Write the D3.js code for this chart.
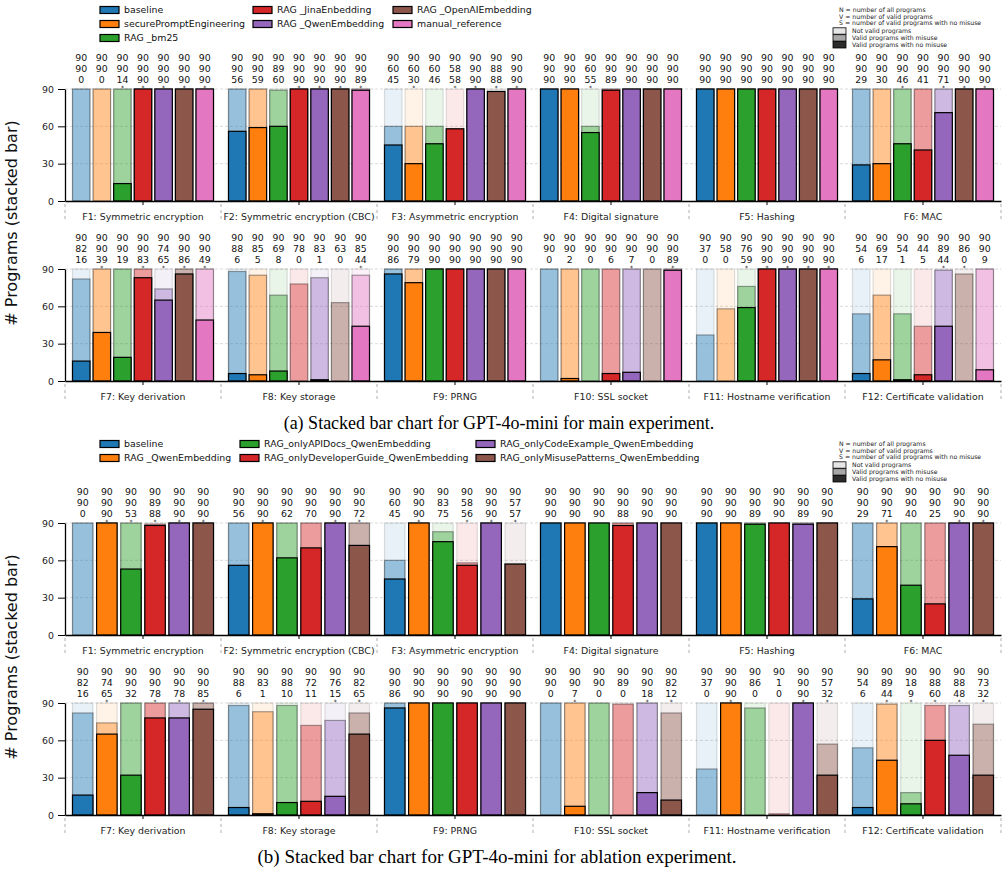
<!DOCTYPE html>
<html>
<head>
<meta charset="utf-8">
<script src="https://cdn.jsdelivr.net/npm/d3@7"></script>
<style>
  body { margin: 0; background: #fff; }
  svg text { font-family: "DejaVu Sans", sans-serif; }
</style>
</head>
<body>
<div id="chart"></div>
<script>
// categories
var features = ["F1: Symmetric encryption", "F2: Symmetric encryption (CBC)", "F3: Asymmetric encryption",
  "F4: Digital signature", "F5: Hashing", "F6: MAC", "F7: Key derivation", "F8: Key storage",
  "F9: PRNG", "F10: SSL socket", "F11: Hostname verification", "F12: Certificate validation"];

var mainSeries = ["baseline", "securePromptEngineering", "RAG _bm25", "RAG _JinaEnbedding",
  "RAG _QwenEmbedding", "RAG _OpenAIEmbedding", "manual_reference"];
var ablSeries = ["baseline", "RAG _QwenEmbedding", "RAG_onlyAPIDocs_QwenEmbedding",
  "RAG_onlyDeveloperGuide_QwenEmbedding", "RAG_onlyCodeExample_QwenEmbedding",
  "RAG_onlyMisusePatterns_QwenEmbedding"];
var tab10 = ["#1f77b4", "#ff7f0e", "#2ca02c", "#d62728", "#9467bd", "#8c564b", "#e377c2"];

// main experiment: N, V, S per feature
var mainTotal = [
  [90,90,90,90,90,90,90], [90,90,90,90,90,90,90], [90,90,90,90,90,90,90],
  [90,90,90,90,90,90,90], [90,90,90,90,90,90,90], [90,90,90,90,90,90,90],
  [90,90,90,90,90,90,90], [90,90,90,90,90,90,90], [90,90,90,90,90,90,90],
  [90,90,90,90,90,90,90], [90,90,90,90,90,90,90], [90,90,90,90,90,90,90]];
var mainValid = [
  [90,90,90,90,90,90,90], [90,90,89,90,90,90,90], [60,60,60,58,90,88,90],
  [90,90,60,90,90,90,90], [90,90,90,90,90,90,90], [90,90,90,90,90,90,90],
  [82,90,90,90,74,90,90], [88,85,69,78,83,63,85], [90,90,90,90,90,90,90],
  [90,90,90,90,90,90,90], [37,58,76,90,90,90,90], [54,69,54,44,89,86,90]];
var mainSecure = [
  [0,0,14,90,90,90,90], [56,59,60,90,90,90,89], [45,30,46,58,90,88,90],
  [90,90,55,89,90,90,90], [90,90,90,90,90,90,90], [29,30,46,41,71,90,90],
  [16,39,19,83,65,86,49], [6,5,8,0,1,0,44], [86,79,90,90,90,90,90],
  [0,2,0,6,7,0,89], [0,0,59,90,90,90,90], [6,17,1,5,44,0,9]];
var mainStars = [
  [0,0,1,1,1,1,1], [0,0,0,1,1,1,1], [0,1,0,1,1,1,1],
  [0,0,1,0,0,0,0], [0,0,0,0,0,0,0], [0,0,1,0,1,1,1],
  [0,1,0,1,1,1,1], [0,0,0,0,0,0,1], [0,0,0,0,0,0,0],
  [0,0,0,0,1,0,1], [0,0,1,1,1,1,1], [0,0,0,0,1,1,0]];

// ablation experiment
var ablTotal = [
  [90,90,90,90,90,90], [90,90,90,90,90,90], [90,90,90,90,90,90],
  [90,90,90,90,90,90], [90,90,90,90,90,90], [90,90,90,90,90,90],
  [90,90,90,90,90,90], [90,90,90,90,90,90], [90,90,90,90,90,90],
  [90,90,90,90,90,90], [90,90,90,90,90,90], [90,90,90,90,90,90]];
var ablValid = [
  [90,90,90,89,90,90], [90,90,90,90,90,90], [60,90,83,58,90,57],
  [90,90,90,90,90,90], [90,90,90,90,90,90], [90,90,90,90,90,90],
  [82,74,90,90,90,90], [88,83,88,72,76,82], [90,90,90,90,90,90],
  [90,90,90,89,90,82], [37,90,86,1,90,57], [54,89,18,88,88,73]];
var ablSecure = [
  [0,90,53,88,90,90], [56,90,62,70,90,72], [45,90,75,56,90,57],
  [90,90,90,88,90,90], [90,90,89,90,89,90], [29,71,40,25,90,90],
  [16,65,32,78,78,85], [6,1,10,11,15,65], [86,90,90,90,90,90],
  [0,7,0,0,18,12], [0,90,0,0,90,32], [6,44,9,60,48,32]];
var ablStars = [
  [0,1,1,1,1,1], [0,1,0,0,1,1], [0,1,0,1,1,1],
  [0,0,0,0,0,0], [0,0,0,0,0,0], [0,1,0,0,1,1],
  [0,1,0,1,1,1], [0,0,0,0,1,1], [0,0,0,0,0,0],
  [0,1,0,0,1,1], [0,1,0,0,1,1], [0,1,1,1,1,1]];

var yTicks = [0, 30, 60, 90];

var svgWidth = 1008, svgHeight = 872;
var plotLeft = 65, plotRight = 1001, rowHeight = 112;
var fs = "9.4px";

var svg = d3.select("#chart").append("svg")
  .attr("width", svgWidth)
  .attr("height", svgHeight);

function drawRow(rowFeatures, fIdx0, cfg, y0) {
  var g = svg.append("g");
  var xGroup = d3.scaleBand().domain(rowFeatures).range([plotLeft, plotRight]).padding(0);
  var yScale = d3.scaleLinear().domain([0, 90]).range([y0, y0 - rowHeight]);
  var top = yScale(90);

  // grid
  g.selectAll(".grid").data([30, 60, 90]).enter().append("line")
    .attr("x1", plotLeft).attr("x2", plotRight)
    .attr("y1", d => yScale(d)).attr("y2", d => yScale(d))
    .attr("stroke", "#d0d0d0").attr("stroke-dasharray", "3,2").attr("stroke-width", 0.8);

  rowFeatures.forEach(function(f, k) {
    var fi = fIdx0 + k;
    var c = xGroup(f) + xGroup.bandwidth() / 2;
    var xBar = d3.scaleBand().domain(d3.range(cfg.series.length))
      .range([c - 70.5, c + 70.5]).paddingInner(0.15).paddingOuter(0);
    var bars = cfg.series.map(function(s, i) {
      return { i: i, n: cfg.total[fi][i], v: cfg.valid[fi][i], s: cfg.secure[fi][i], star: cfg.stars[fi][i] };
    });
    var bar = g.append("g").selectAll("g").data(bars).enter().append("g");
    bar.append("rect")
      .attr("x", d => xBar(d.i)).attr("width", xBar.bandwidth())
      .attr("y", d => yScale(d.n)).attr("height", d => y0 - yScale(d.n))
      .attr("fill", d => cfg.colors[d.i]).attr("fill-opacity", 0.1)
      .attr("stroke", "#000").attr("stroke-opacity", 0.12).attr("stroke-width", 1.2);
    bar.append("rect")
      .attr("x", d => xBar(d.i)).attr("width", xBar.bandwidth())
      .attr("y", d => yScale(d.v)).attr("height", d => y0 - yScale(d.v))
      .attr("fill", d => cfg.colors[d.i]).attr("fill-opacity", 0.4)
      .attr("stroke", "#000").attr("stroke-opacity", 0.35).attr("stroke-width", 1.2);
    bar.append("rect")
      .attr("x", d => xBar(d.i)).attr("width", xBar.bandwidth())
      .attr("y", d => yScale(d.s)).attr("height", d => y0 - yScale(d.s))
      .attr("fill", d => cfg.colors[d.i])
      .attr("stroke", "#000").attr("stroke-width", 1.2);

    // N / V / S labels
    var lbl = bar.append("text")
      .attr("text-anchor", "middle")
      .style("font-size", fs)
      .attr("fill", "#111");
    lbl.append("tspan").attr("x", d => xBar(d.i) + xBar.bandwidth() / 2).attr("y", top - 27.8).text(d => d.n);
    lbl.append("tspan").attr("x", d => xBar(d.i) + xBar.bandwidth() / 2).attr("y", top - 17.2).text(d => d.v);
    lbl.append("tspan").attr("x", d => xBar(d.i) + xBar.bandwidth() / 2).attr("y", top - 6.5).text(d => d.s);
    bar.filter(d => d.star).append("text")
      .attr("x", d => xBar(d.i) + xBar.bandwidth() / 2)
      .attr("y", top + 1)
      .attr("text-anchor", "middle")
      .style("font-size", "6px")
      .text("*");
  });

  // axes
  var leftAxis = d3.axisLeft(yScale).tickValues(yTicks).tickSize(7).tickSizeOuter(0).tickPadding(4);
  g.append("g").attr("transform", `translate(${plotLeft},0)`).call(leftAxis)
    .call(a => a.selectAll("text").style("font-size", fs).attr("fill", "#222"))
    .call(a => a.select(".domain").attr("stroke-width", 1.3));

  var bottomAxis = d3.axisBottom(xGroup).tickSize(4).tickSizeOuter(0).tickPadding(8);
  g.append("g").attr("transform", `translate(0,${y0})`).call(bottomAxis)
    .call(a => a.selectAll("text").style("font-size", fs).attr("fill", "#222"))
    .call(a => a.select(".domain").attr("stroke-width", 1.3));

  // separators between groups
  var seps = rowFeatures.map(f => xGroup(f)).concat([plotRight]);
  g.selectAll(".sep").data(seps).enter().append("line")
    .attr("x1", d => d).attr("x2", d => d)
    .attr("y1", y0 + 3).attr("y2", y0 + 21)
    .attr("stroke", "#999").attr("stroke-dasharray", "3,3").attr("stroke-width", 0.8);
}

function drawLegend(items, colors, cols, rowYs) {
  var g = svg.append("g");
  var idx = 0;
  cols.forEach(function(col) {
    for (var r = 0; r < col.n; r++) {
      var y = rowYs[r];
      g.append("rect").attr("x", col.x).attr("y", y - 3.5).attr("width", 19).attr("height", 7)
        .attr("fill", colors[idx]).attr("stroke", "#000").attr("stroke-width", 1.2);
      g.append("text").attr("x", col.x + 24).attr("y", y).attr("dy", "0.35em")
        .style("font-size", fs).attr("fill", "#111").text(items[idx]);
      idx++;
    }
  });
}

function drawKey(yTop) {
  var g = svg.append("g").attr("transform", `translate(0,${yTop})`);
  var lines = ["N = number of all programs", "V = number of valid programs", "S = number of valid programs with no misuse"];
  lines.forEach(function(t, i) {
    g.append("text").attr("x", 839).attr("y", i * 6.6).attr("dy", "0.35em")
      .style("font-size", "6.2px").attr("fill", "#222").text(t);
  });
  var keys = [["Not valid programs", "#e6e6e6"], ["Valid programs with misuse", "#a8a8a8"], ["Valid programs with no misuse", "#2b2b2b"]];
  keys.forEach(function(k, i) {
    var y = 21 + i * 6.9;
    g.append("rect").attr("x", 833).attr("y", y - 3.2).attr("width", 13).attr("height", 6.4)
      .attr("fill", k[1]).attr("stroke", "#000").attr("stroke-width", 0.8);
    g.append("text").attr("x", 852).attr("y", y).attr("dy", "0.35em")
      .style("font-size", "6.2px").attr("fill", "#222").text(k[0]);
  });
}

var mainCfg = { series: mainSeries, colors: tab10, total: mainTotal, valid: mainValid, secure: mainSecure, stars: mainStars };
var ablCfg = { series: ablSeries, colors: tab10, total: ablTotal, valid: ablValid, secure: ablSecure, stars: ablStars };

drawRow(features.slice(0, 6), 0, mainCfg, 201);
drawRow(features.slice(6, 12), 6, mainCfg, 381);
drawRow(features.slice(0, 6), 0, ablCfg, 635);
drawRow(features.slice(6, 12), 6, ablCfg, 815);

drawLegend(mainSeries, tab10, [{ x: 100, n: 3 }, { x: 253, n: 2 }, { x: 393, n: 2 }], [10, 24, 38]);
drawLegend(ablSeries, tab10, [{ x: 100, n: 2 }, { x: 240, n: 2 }, { x: 476, n: 2 }], [444, 458]);
drawKey(10);
drawKey(444);

// y labels
[223, 657].forEach(function(cy) {
  svg.append("text")
    .attr("transform", `translate(17,${cy}) rotate(-90)`)
    .attr("text-anchor", "middle")
    .style("font-size", "16px")
    .attr("fill", "#111")
    .text("# Programs (stacked bar)");
});

// captions
svg.append("text").attr("x", 499).attr("y", 423).attr("dy", "0.35em")
  .attr("text-anchor", "middle")
  .style("font-family", "'Liberation Serif', 'Times New Roman', serif").style("font-size", "18px")
  .text("(a) Stacked bar chart for GPT-4o-mini for main experiment.");
svg.append("text").attr("x", 497).attr("y", 856).attr("dy", "0.35em")
  .attr("text-anchor", "middle")
  .style("font-family", "'Liberation Serif', 'Times New Roman', serif").style("font-size", "19px")
  .text("(b) Stacked bar chart for GPT-4o-mini for ablation experiment.");
</script>
</body>
</html>
